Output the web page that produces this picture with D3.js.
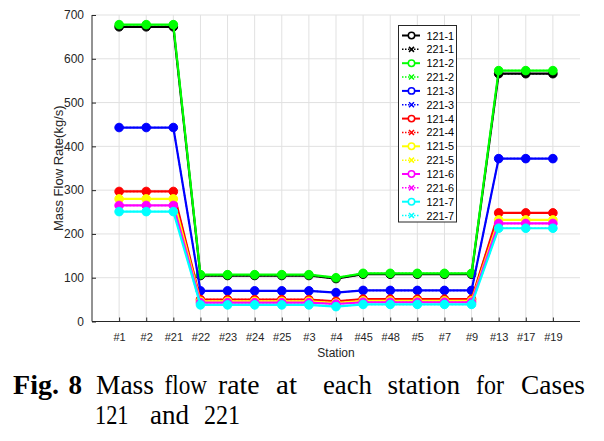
<!DOCTYPE html>
<html><head><meta charset="utf-8">
<script src="https://cdn.jsdelivr.net/npm/d3@7"></script>
<style>body{margin:0;background:#fff}svg{display:block}</style>
</head><body>
<svg id="chart" width="604" height="441"></svg>
<script>
const categories = ["#1","#2","#21","#22","#23","#24","#25","#3","#4","#45","#48","#5","#7","#9","#13","#17","#19"];
const yTicks = [0,100,200,300,400,500,600,700];
const seriesNames = ["121-1","221-1","121-2","221-2","121-3","221-3","121-4","221-4","121-5","221-5","121-6","221-6","121-7","221-7"];
const seriesColors = ["#000000","#000000","#00ff00","#00ff00","#0000ff","#0000ff","#ff0000","#ff0000","#ffff00","#ffff00","#ff00ff","#ff00ff","#00ffff","#00ffff"];
const s121_1 = [673,673,673,105,105,105,105,105,98,108,108,108,108,108,566,566,566];
const s221_1 = [673,673,673,105,105,105,105,105,98,108,108,108,108,108,566,566,566];
const s121_2 = [678,678,678,107,107,107,107,107,100,110,110,110,110,110,573,573,573];
const s221_2 = [678,678,678,107,107,107,107,107,100,110,110,110,110,110,573,573,573];
const s121_3 = [443,443,443,70,70,70,70,70,66,71,71,71,71,71,372,372,372];
const s221_3 = [443,443,443,70,70,70,70,70,66,71,71,71,71,71,372,372,372];
const s121_4 = [297,297,297,50,50,50,50,50,46,51,51,51,51,51,248,248,248];
const s221_4 = [297,297,297,50,50,50,50,50,46,51,51,51,51,51,248,248,248];
const s121_5 = [280,280,280,46,46,46,46,46,42,47,47,47,47,47,232,232,232];
const s221_5 = [280,280,280,46,46,46,46,46,42,47,47,47,47,47,232,232,232];
const s121_6 = [265,265,265,43,43,43,43,43,40,44,44,44,44,44,224,224,224];
const s221_6 = [265,265,265,43,43,43,43,43,40,44,44,44,44,44,224,224,224];
const s121_7 = [251,251,251,38,38,38,38,38,34,39,39,39,39,39,213,213,213];
const s221_7 = [251,251,251,38,38,38,38,38,34,39,39,39,39,39,213,213,213];
const seriesValues = [s121_1,s221_1,s121_2,s221_2,s121_3,s221_3,s121_4,s221_4,s121_5,s221_5,s121_6,s221_6,s121_7,s221_7];

const svg = d3.select("#chart");
const L = 92, R = 580, T = 15, B = 321.5;
const x = d3.scaleLinear().domain([0, categories.length + 1]).range([L, R]);
const y = d3.scaleLinear().domain([0, 700]).range([B, T]);
const axisColor = "#262626";
const font = "'Liberation Sans', Arial, sans-serif";

// grid
const grid = svg.append("g");
categories.forEach((c,i)=>{
  grid.append("line").attr("x1",x(i+1)).attr("x2",x(i+1)).attr("y1",T).attr("y2",B)
    .attr("stroke","#e1e1e1").attr("stroke-width",1);
});
yTicks.forEach(v=>{
  if(v===0) return;
  grid.append("line").attr("x1",L).attr("x2",R).attr("y1",y(v)).attr("y2",y(v))
    .attr("stroke","#e1e1e1").attr("stroke-width",1);
});

// axes
const yAxis = d3.axisLeft(y).tickValues(yTicks).tickSize(-4).tickPadding(8);
const gy = svg.append("g").attr("transform",`translate(${L},0)`).call(yAxis);
const xAxis = d3.axisBottom(x).tickValues(d3.range(1,categories.length+1)).tickFormat(d=>categories[d-1]).tickSize(-4).tickPadding(12);
const gx = svg.append("g").attr("transform",`translate(0,${B})`).call(xAxis);
[gx,gy].forEach(g=>{
  g.select(".domain").attr("stroke",axisColor).attr("stroke-width",1);
  g.selectAll(".tick line").attr("stroke",axisColor);
  g.selectAll("text").attr("fill",axisColor).attr("font-family",font).attr("font-size",12);
});
gx.selectAll("text").attr("font-size",11);
gx.select(".domain").attr("d",`M${L},0H${R}`);
gy.select(".domain").attr("d",`M0,${B}V${T}`);

svg.append("text").attr("x",(L+R)/2).attr("y",357).attr("text-anchor","middle")
  .attr("font-family",font).attr("font-size",12).attr("fill",axisColor).text("Station");
svg.append("text").attr("transform",`translate(63,${(T+B)/2}) rotate(-90)`).attr("text-anchor","middle")
  .attr("font-family",font).attr("font-size",13).attr("fill",axisColor).text("Mass Flow Rate(kg/s)");

// series
const line = d3.line().x((d,i)=>x(i+1)).y(d=>y(d));
const plot = svg.append("g");
function xMarker(g, cx, cy, r, color){
  g.append("path").attr("d",`M${cx-r},${cy-r}L${cx+r},${cy+r}M${cx-r},${cy+r}L${cx+r},${cy-r}`)
    .attr("stroke",color).attr("stroke-width",1.5).attr("fill","none");
}
seriesValues.forEach((vals,k)=>{
  const col = seriesColors[k];
  const dotted = seriesNames[k].startsWith("221");
  plot.append("path").datum(vals).attr("d",line).attr("fill","none")
    .attr("stroke",col).attr("stroke-width",dotted?1.5:2.2)
    .attr("stroke-dasharray",dotted?"1.5,2":null);
  vals.forEach((v,i)=>{
    if(dotted) xMarker(plot, x(i+1), y(v), 3, col);
    else plot.append("circle").attr("cx",x(i+1)).attr("cy",y(v)).attr("r",4.3)
      .attr("fill",col).attr("stroke",col).attr("stroke-width",1);
  });
});

// legend
const lg = svg.append("g");
const lx = 398.5, ly = 25.5, lw = 58, lh = 196.5, step = 13.85;
lg.append("rect").attr("x",lx).attr("y",ly).attr("width",lw).attr("height",lh)
  .attr("fill","#fff").attr("stroke","#262626").attr("stroke-width",1);
seriesNames.forEach((n,k)=>{
  const cy = ly + 10 + k*step;
  const col = seriesColors[k];
  const dotted = n.startsWith("221");
  lg.append("line").attr("x1",lx+3.5).attr("x2",lx+21.5).attr("y1",cy).attr("y2",cy)
    .attr("stroke",col).attr("stroke-width",dotted?1.5:2).attr("stroke-dasharray",dotted?"1.5,1.5":null);
  if(dotted) xMarker(lg, lx+13, cy, 2.5, col);
  else lg.append("circle").attr("cx",lx+13).attr("cy",cy).attr("r",3.2).attr("fill","#fff")
    .attr("stroke",col).attr("stroke-width",1.5);
  lg.append("text").attr("x",lx+28).attr("y",cy+4).attr("font-family",font).attr("font-size",10.8)
    .attr("fill","#000").text(n);
});

// caption (word start, word width)
const serif = "'Liberation Serif','Times New Roman',serif";
const cap1 = [["Fig.",13,46,true],["8",68.5,13.5,true],["Mass",96,58],["flow",164.5,42.5],["rate",218,41.5],["at",276,21],["each",323,49],["station",387.5,72.5],["for",476,28],["Cases",521,64]];
const cap2 = [["121",95,33.5],["and",150,39],["221",204,36]];
function word(t,px,w,b,by){
  svg.append("text").attr("x",px).attr("y",by).attr("font-family",serif)
    .attr("font-size",27).attr("font-weight",b?"bold":"normal").attr("fill","#000")
    .attr("textLength",w).attr("lengthAdjust","spacingAndGlyphs").text(t);
}
cap1.forEach(([t,px,w,b])=>word(t,px,w,b,394));
cap2.forEach(([t,px,w])=>word(t,px,w,false,424));
</script>
</body></html>
